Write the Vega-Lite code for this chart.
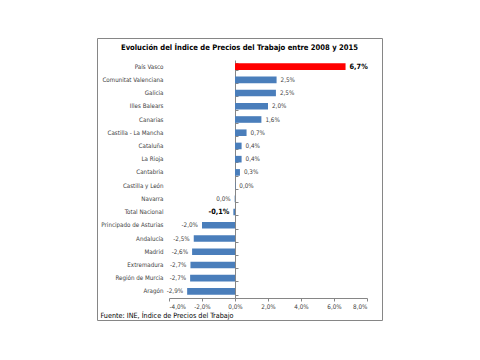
{
  "$schema": "https://vega.github.io/schema/vega-lite/v6.json",
  "width": 285,
  "height": 282,
  "autosize": "none",
  "padding": {"left": 97, "top": 38, "right": 98, "bottom": 40},
  "background": "white",
  "title": {"text": "Evolución del Índice de Precios del Trabajo entre 2008 y 2015", "offset": -18, "baseline": "middle", "font": "DejaVu Sans Condensed, Liberation Sans", "fontSize": 7.6, "fontWeight": "bold", "color": "#000000"},
  "data": {"values": [
    {"region": "País Vasco", "v": 0.067},
    {"region": "Comunitat Valenciana", "v": 0.0252},
    {"region": "Galicia", "v": 0.0248},
    {"region": "Illes Balears", "v": 0.020},
    {"region": "Canarias", "v": 0.016},
    {"region": "Castilla - La Mancha", "v": 0.007},
    {"region": "Cataluña", "v": 0.004},
    {"region": "La Rioja", "v": 0.004},
    {"region": "Cantabria", "v": 0.003},
    {"region": "Castilla y León", "v": 0.0002},
    {"region": "Navarra", "v": -0.0002},
    {"region": "Total Nacional", "v": -0.001},
    {"region": "Principado de Asturias", "v": -0.020},
    {"region": "Andalucía", "v": -0.025},
    {"region": "Madrid", "v": -0.026},
    {"region": "Extremadura", "v": -0.027},
    {"region": "Región de Murcia", "v": -0.0272},
    {"region": "Aragón", "v": -0.029}
  ]},
  "encoding": {
    "y": {"field": "region", "type": "nominal", "sort": null, "axis": null,
      "scale": {"range": [22, 260], "paddingInner": 0.5, "paddingOuter": 0.25}},
    "x": {"field": "v", "type": "quantitative",
      "scale": {"domain": [-0.04, 0.08], "range": [72, 270], "nice": false, "zero": false},
      "axis": {"format": ".1%", "values": [-0.04, -0.02, 0, 0.02, 0.04, 0.06, 0.08], "grid": false, "offset": -22, "domainColor": "#868686", "tickColor": "#868686", "tickSize": 3, "labelFont": "DejaVu Sans Condensed, Liberation Sans", "labelFontSize": 6.3, "labelColor": "#404040", "labelPadding": 2,
        "title": "Fuente: INE, Índice de Precios del Trabajo", "titleX": 3, "titleY": 17, "titleAlign": "left", "titleAnchor": null, "titleBaseline": "middle", "titleFont": "DejaVu Sans Condensed, Liberation Sans", "titleFontSize": 7.2, "titleFontWeight": "normal", "titleColor": "#000000"}}
  },
  "layer": [
    {
      "mark": {"type": "bar"},
      "encoding": {
        "y": {"field": "region", "type": "nominal", "sort": null,
          "axis": {"orient": "left", "offset": -72, "title": null, "domain": false, "ticks": false, "labelPadding": 6, "labelFont": "DejaVu Sans Condensed, Liberation Sans", "labelFontSize": 6.2, "labelColor": "#404040"}},
        "color": {"condition": {"test": "datum.region === 'País Vasco'", "value": "#FF0000"}, "value": "#4A7EBB"}
      }
    },
    {
      "transform": [{"filter": "datum.v >= 0 && datum.region !== 'País Vasco'"}],
      "mark": {"type": "text", "align": "left", "dx": 4, "font": "DejaVu Sans Condensed, Liberation Sans", "fontSize": 6.3, "color": "#404040"},
      "encoding": {
        "y": {"field": "region", "type": "nominal", "sort": null,
          "axis": {"orient": "right", "offset": -147, "labels": false, "title": null, "domain": true, "domainColor": "#868686", "ticks": true, "tickColor": "#868686", "tickSize": 3, "tickBand": "extent"}},
        "text": {"field": "v", "type": "quantitative", "format": ".1%"}
      }
    },
    {
      "transform": [{"filter": "datum.v < 0 && datum.region !== 'Total Nacional'"}],
      "mark": {"type": "text", "align": "right", "dx": -4, "font": "DejaVu Sans Condensed, Liberation Sans", "fontSize": 6.3, "color": "#404040"},
      "encoding": {
        "text": {"field": "v", "type": "quantitative", "format": ".1%"}
      }
    },
    {
      "transform": [{"filter": "datum.region === 'País Vasco'"}],
      "mark": {"type": "text", "align": "left", "dx": 4, "font": "DejaVu Sans Condensed, Liberation Sans", "fontSize": 7.3, "fontWeight": "bold", "color": "#000000"},
      "encoding": {
        "text": {"field": "v", "type": "quantitative", "format": ".1%"}
      }
    },
    {
      "transform": [{"filter": "datum.region === 'Total Nacional'"}],
      "mark": {"type": "text", "align": "right", "dx": -4, "font": "DejaVu Sans Condensed, Liberation Sans", "fontSize": 7.3, "fontWeight": "bold", "color": "#000000"},
      "encoding": {
        "text": {"field": "v", "type": "quantitative", "format": ".1%"}
      }
    }
  ],
  "resolve": {"axis": {"y": "independent"}},
  "config": {
    "view": {"stroke": "#868686", "strokeWidth": 1},
    "locale": {"number": {"decimal": ",", "thousands": ".", "grouping": [3], "currency": ["", " €"], "minus": "-"}}
  }
}
